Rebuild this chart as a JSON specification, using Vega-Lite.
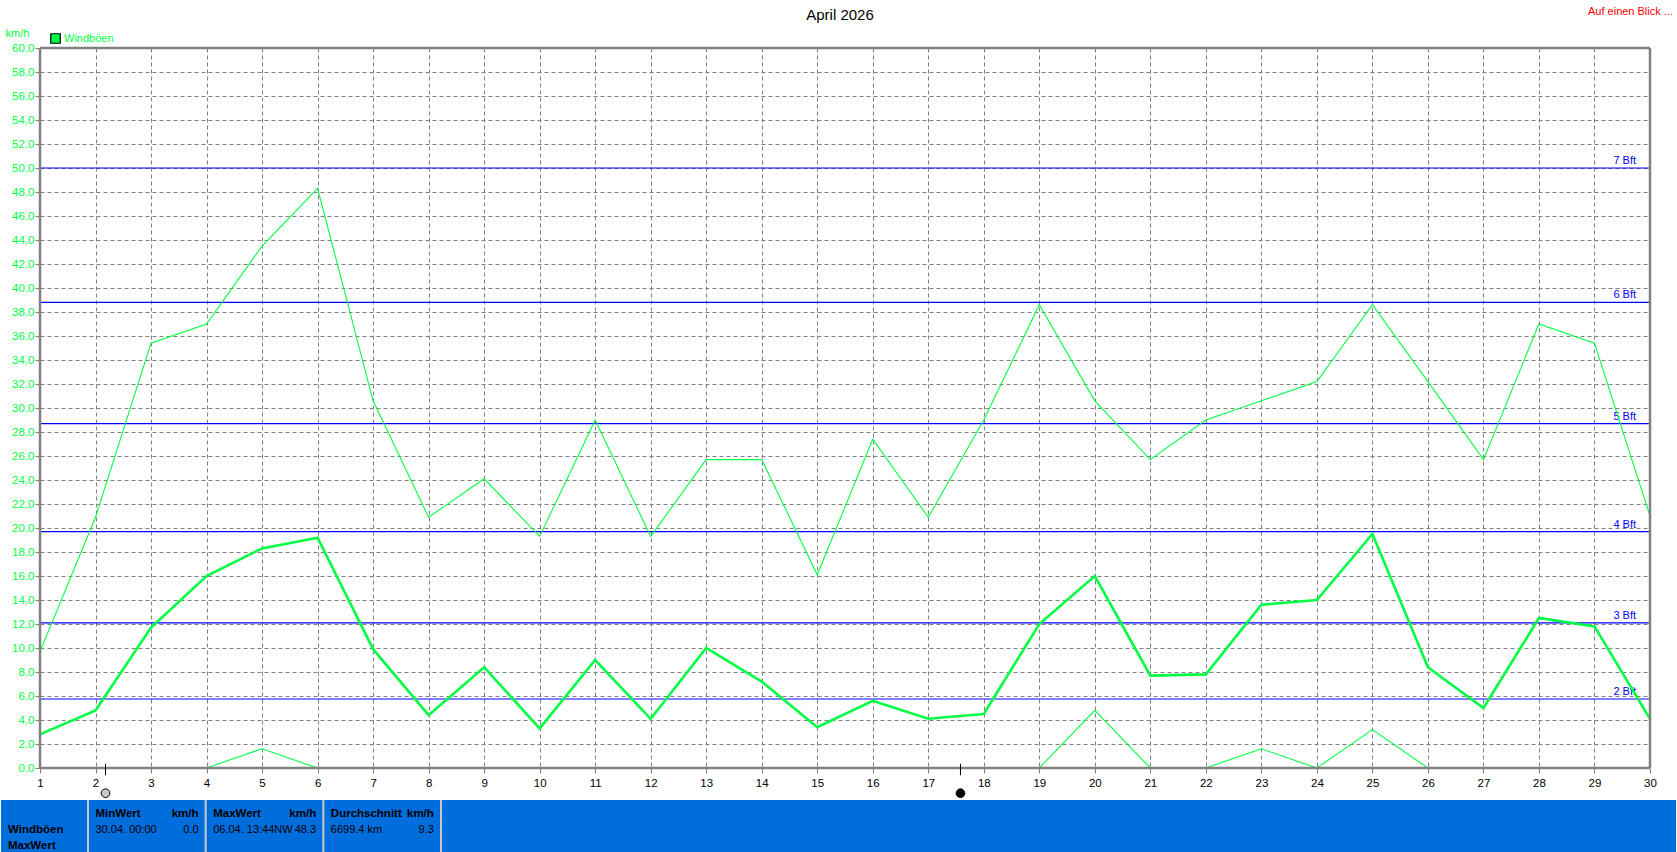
{
"$schema":"https://vega.github.io/schema/vega-lite/v6.json",
"autosize":{"type":"none"},
"padding":{"left":40,"top":48,"right":27,"bottom":84},
"width":1610,"height":720,
"background":"#ffffff",
"title":{"text":"April 2026","anchor":"middle","dx":-5,"offset":-17,"fontSize":15,"font":"Liberation Sans","fontWeight":"normal","color":"#000000"},
"config":{"view":{"stroke":null},"font":"Liberation Sans"},
"resolve":{"scale":{"x":"independent","y":"independent"}},
"layer":[
{"layer":[
 {"data":{"values":[{"stufe":"2 Bft","kmh":5.75},{"stufe":"3 Bft","kmh":12.1},{"stufe":"4 Bft","kmh":19.7},{"stufe":"5 Bft","kmh":28.7},{"stufe":"6 Bft","kmh":38.8},{"stufe":"7 Bft","kmh":50}]},
  "layer":[
  {"mark":{"type":"rule","color":"#0000ff","strokeWidth":1.2},
   "encoding":{"y":{"field":"kmh","type":"quantitative","scale":{"domain":[0,60],"nice":false,"zero":false}}}},
  {"mark":{"type":"text","color":"#0000ff","align":"right","baseline":"alphabetic","fontSize":11,"dx":-14,"dy":-4},
   "encoding":{"x":{"datum":30,"type":"quantitative","scale":{"domain":[1,30],"nice":false,"zero":false}},
     "y":{"field":"kmh","type":"quantitative","scale":{"domain":[0,60],"nice":false,"zero":false}},
     "text":{"field":"stufe"}}}
  ]},
 {"data":{"values":[
  {"tag":1,"Max":9.7,"Mittel":2.8,"Min":0},
  {"tag":2,"Max":20.9,"Mittel":4.8,"Min":0},
  {"tag":3,"Max":35.4,"Mittel":11.7,"Min":0},
  {"tag":4,"Max":37.0,"Mittel":16.0,"Min":0},
  {"tag":5,"Max":43.5,"Mittel":18.3,"Min":1.6},
  {"tag":6,"Max":48.3,"Mittel":19.2,"Min":0},
  {"tag":7,"Max":30.6,"Mittel":9.9,"Min":0},
  {"tag":8,"Max":20.9,"Mittel":4.4,"Min":0},
  {"tag":9,"Max":24.1,"Mittel":8.4,"Min":0},
  {"tag":10,"Max":19.3,"Mittel":3.3,"Min":0},
  {"tag":11,"Max":29.0,"Mittel":9.0,"Min":0},
  {"tag":12,"Max":19.3,"Mittel":4.1,"Min":0},
  {"tag":13,"Max":25.7,"Mittel":10.0,"Min":0},
  {"tag":14,"Max":25.7,"Mittel":7.2,"Min":0},
  {"tag":15,"Max":16.1,"Mittel":3.4,"Min":0},
  {"tag":16,"Max":27.4,"Mittel":5.6,"Min":0},
  {"tag":17,"Max":20.9,"Mittel":4.1,"Min":0},
  {"tag":18,"Max":29.0,"Mittel":4.5,"Min":0},
  {"tag":19,"Max":38.6,"Mittel":12.0,"Min":0},
  {"tag":20,"Max":30.6,"Mittel":16.0,"Min":4.8},
  {"tag":21,"Max":25.7,"Mittel":7.7,"Min":0},
  {"tag":22,"Max":29.0,"Mittel":7.8,"Min":0},
  {"tag":23,"Max":30.6,"Mittel":13.6,"Min":1.6},
  {"tag":24,"Max":32.2,"Mittel":14.0,"Min":0},
  {"tag":25,"Max":38.6,"Mittel":19.5,"Min":3.2},
  {"tag":26,"Max":32.2,"Mittel":8.4,"Min":0},
  {"tag":27,"Max":25.7,"Mittel":5.0,"Min":0},
  {"tag":28,"Max":37.0,"Mittel":12.5,"Min":0},
  {"tag":29,"Max":35.4,"Mittel":11.8,"Min":0},
  {"tag":30,"Max":21.0,"Mittel":4.1,"Min":0}
  ]},
  "transform":[{"fold":["Max","Mittel","Min"],"as":["stat","wert"]}],
  "mark":{"type":"line","color":"#00ff44","interpolate":"linear","strokeJoin":"miter","clip":false},
  "encoding":{
   "x":{"field":"tag","type":"quantitative","scale":{"domain":[1,30],"nice":false,"zero":false},
    "axis":{"values":[1,2,3,4,5,6,7,8,9,10,11,12,13,14,15,16,17,18,19,20,21,22,23,24,25,26,27,28,29,30],"tickCount":40,"format":"d","grid":true,"gridColor":"#808080","gridDash":[4,3],"gridWidth":1,"gridOpacity":1,"domain":false,"tickColor":"#808080","tickSize":5,"tickWidth":1,"labelColor":"#000000","labelFontSize":11.5,"labelFont":"Liberation Sans","labelPadding":4,"labelAngle":0,"labelOverlap":false,"labelFlush":false,"labelBound":false,"title":null}},
   "y":{"field":"wert","type":"quantitative","scale":{"domain":[0,60],"nice":false,"zero":false},
     "axis":{"values":[0,2,4,6,8,10,12,14,16,18,20,22,24,26,28,30,32,34,36,38,40,42,44,46,48,50,52,54,56,58,60],"tickCount":40,"format":".1f","grid":true,"gridColor":"#808080","gridDash":[4,3],"gridWidth":1,"gridOpacity":1,"domain":false,"tickColor":"#808080","tickSize":5,"tickWidth":1,"labelColor":"#00ff44","labelFontSize":11.5,"labelFont":"Liberation Sans","labelPadding":1,"labelOverlap":false,"labelFlush":false,"labelBound":false,"title":"km/h","titleAngle":0,"titleX":-35,"titleY":-15,"titleAlign":"left","titleBaseline":"middle","titleColor":"#00ff44","titleFontSize":11,"titleFontWeight":"normal","titleFont":"Liberation Sans"}},
   "detail":{"field":"stat"},
   "strokeWidth":{"field":"stat","type":"nominal","scale":{"type":"ordinal","domain":["Max","Mittel","Min"],"range":[1.1,2.6,1.1]},"legend":null}
  }},
 {"data":{"values":[{"tag":1,"kmh":0,"messgroesse":"Windböen"}]},
  "mark":{"type":"square","filled":true,"stroke":"#000000","strokeWidth":1.2,"opacity":1,"size":0},
  "encoding":{
   "x":{"field":"tag","type":"quantitative","scale":{"domain":[1,30],"nice":false,"zero":false}},
   "y":{"field":"kmh","type":"quantitative","scale":{"domain":[0,60],"nice":false,"zero":false}},
   "fill":{"field":"messgroesse","type":"nominal","scale":{"domain":["Windböen"],"range":["#00ff44"]},
    "legend":{"orient":"none","legendX":10,"legendY":-15,"title":null,"symbolType":"square","symbolSize":90,"symbolStrokeColor":"#000000","symbolStrokeWidth":1.2,"labelColor":"#00ff44","labelFontSize":11,"labelFont":"Liberation Sans","labelOffset":3,"padding":0}}
  }},
 {"data":{"values":[{"rand":"links","tag":1},{"rand":"rechts","tag":30}]},
  "mark":{"type":"rule","color":"#808080","strokeWidth":2.5},
  "encoding":{"x":{"field":"tag","type":"quantitative","scale":{"domain":[1,30],"nice":false,"zero":false}}}},
 {"data":{"values":[{"rand":"unten","kmh":0},{"rand":"oben","kmh":60}]},
  "mark":{"type":"rule","color":"#808080","strokeWidth":2.5},
  "encoding":{"y":{"field":"kmh","type":"quantitative","scale":{"domain":[0,60],"nice":false,"zero":false}}}},
 {"data":{"values":[{"tag":2.18,"phase":"Vollmond"},{"tag":17.58,"phase":"Neumond"}]},
  "layer":[
  {"mark":{"type":"rule","color":"#000000","strokeWidth":1},
   "encoding":{"x":{"field":"tag","type":"quantitative","scale":{"domain":[1,30],"nice":false,"zero":false}},
    "y":{"datum":0.35,"type":"quantitative","scale":{"domain":[0,60],"nice":false,"zero":false}},
    "y2":{"datum":-0.6}}},
  {"mark":{"type":"point","filled":true,"stroke":"#000000","strokeWidth":1,"size":75,"opacity":1},
   "encoding":{"x":{"field":"tag","type":"quantitative","scale":{"domain":[1,30],"nice":false,"zero":false}},
    "y":{"datum":-2.1,"type":"quantitative","scale":{"domain":[0,60],"nice":false,"zero":false}},
    "color":{"field":"phase","type":"nominal","scale":{"domain":["Vollmond","Neumond"],"range":["#c8c8c8","#000000"]},"legend":null}}}
  ]},
 {"data":{"values":[{"hinweis":"Auf einen Blick ..."}]},
  "mark":{"type":"text","color":"#ff0000","align":"right","baseline":"middle","fontSize":11,"dx":23,"dy":-36},
  "encoding":{"x":{"datum":30,"type":"quantitative","scale":{"domain":[1,30],"nice":false,"zero":false}},
   "y":{"datum":60,"type":"quantitative","scale":{"domain":[0,60],"nice":false,"zero":false}},
   "text":{"field":"hinweis"}}},
 {"data":{"values":[{"flaeche":"Fußzeile"}]},
  "mark":{"type":"rect","color":"#006ddd","clip":false},
  "encoding":{"x":{"datum":0.297,"type":"quantitative","scale":{"domain":[1,30],"nice":false,"zero":false}},
   "x2":{"datum":30.47},
   "y":{"datum":-2.667,"type":"quantitative","scale":{"domain":[0,60],"nice":false,"zero":false}},
   "y2":{"datum":-7.1}}}
]},
{"encoding":{
  "x":{"field":"spalte","type":"nominal","scale":{"type":"point","domain":["MinWert","MaxWert","Durchschnitt","Ende"],"range":[48,401],"padding":0},"axis":null},
  "y":{"field":"zeile","type":"nominal","scale":{"type":"point","domain":["Kopf","Wert","Zeile3"],"range":[766,798],"padding":0},"axis":null}
 },
 "layer":[
 {"data":{"values":[{"spalte":"MinWert","zeile":"Wert"},{"spalte":"MaxWert","zeile":"Wert"},{"spalte":"Durchschnitt","zeile":"Wert"},{"spalte":"Ende","zeile":"Wert"}]},
  "mark":{"type":"tick","orient":"vertical","color":"#c8c8c8","thickness":2,"size":60,"opacity":1}},
 {"data":{"values":[{"spalte":"MinWert","zeile":"Wert","text":"Windböen"},{"spalte":"MinWert","zeile":"Zeile3","text":"MaxWert"}]},
  "mark":{"type":"text","color":"#000000","align":"left","baseline":"middle","fontSize":11.5,"fontWeight":"bold","dx":-80},
  "encoding":{"text":{"field":"text"}}},
 {"data":{"values":[{"spalte":"MinWert","zeile":"Kopf","text":"MinWert"},{"spalte":"MaxWert","zeile":"Kopf","text":"MaxWert"},{"spalte":"Durchschnitt","zeile":"Kopf","text":"Durchschnitt"}]},
  "mark":{"type":"text","color":"#000000","align":"left","baseline":"middle","fontSize":11.5,"fontWeight":"bold","dx":7.5},
  "encoding":{"text":{"field":"text"}}},
 {"data":{"values":[{"spalte":"MinWert","zeile":"Kopf","text":"km/h"},{"spalte":"MaxWert","zeile":"Kopf","text":"km/h"},{"spalte":"Durchschnitt","zeile":"Kopf","text":"km/h"}]},
  "mark":{"type":"text","color":"#000000","align":"right","baseline":"middle","fontSize":11.5,"fontWeight":"bold","dx":110.5},
  "encoding":{"text":{"field":"text"}}},
 {"data":{"values":[{"spalte":"MinWert","zeile":"Wert","text":"30.04.  00:00"},{"spalte":"MaxWert","zeile":"Wert","text":"06.04.  13:44NW"},{"spalte":"Durchschnitt","zeile":"Wert","text":"6699.4 km"}]},
  "mark":{"type":"text","color":"#000000","align":"left","baseline":"middle","fontSize":11,"dx":7.5},
  "encoding":{"text":{"field":"text"}}},
 {"data":{"values":[{"spalte":"MinWert","zeile":"Wert","text":"0.0"},{"spalte":"MaxWert","zeile":"Wert","text":"48.3"},{"spalte":"Durchschnitt","zeile":"Wert","text":"9.3"}]},
  "mark":{"type":"text","color":"#000000","align":"right","baseline":"middle","fontSize":11,"dx":110.5},
  "encoding":{"text":{"field":"text"}}}
 ]}
]
}
